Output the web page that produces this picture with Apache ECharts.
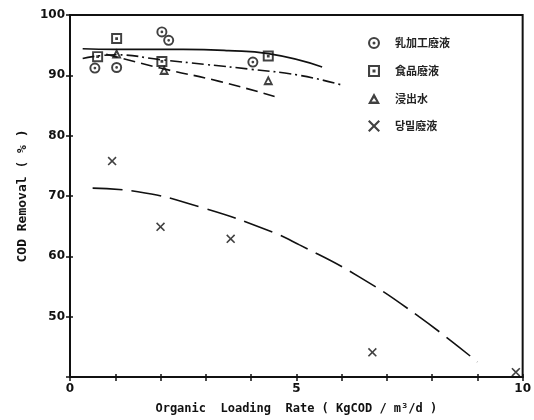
<!DOCTYPE html>
<html>
<head>
<meta charset="utf-8">
<script src="https://cdn.jsdelivr.net/npm/echarts@6/dist/echarts.min.js"></script>
<style>
  html, body { margin: 0; padding: 0; background: #fff; }
  #chart { width: 534px; height: 420px; }
</style>
</head>
<body>
<div id="chart"></div>
<script>
// 散点数据 [负荷, 去除率]
var dairyPts = [[0.55, 91.2], [1.03, 91.3], [2.03, 97.2], [2.18, 95.8], [4.04, 92.2]];
var foodPts = [[0.61, 93.1], [1.03, 96.1], [2.03, 92.3], [4.38, 93.2]];
var leachPts = [[1.03, 93.6], [2.08, 90.9], [4.38, 89.2]];
var molassesPts = [[0.93, 75.8], [2.0, 64.9], [3.55, 62.9], [6.68, 44.1], [9.85, 40.8]];

// 拟合曲线
var solidCurve = [[0.28, 94.4], [1.0, 94.3], [2.5, 94.3], [3.5, 94.1], [4.38, 93.6], [5.57, 91.4]];
var dashDotCurve = [[0.28, 92.8], [1.0, 93.4], [2.0, 92.6], [3.0, 91.8], [4.0, 91.0], [5.07, 90.0], [6.0, 88.4]];
var dashCurve = [[0.8, 93.5], [2.0, 91.2], [3.3, 89.0], [4.52, 86.5]];
var longDashCurve = [[0.5, 71.3], [1.5, 70.7], [2.86, 68.2], [4.34, 64.4], [5.07, 61.9], [6.39, 56.6], [7.71, 50.0], [9.0, 42.5]];

var legendNames = ['乳加工廢液', '食品廢液', '浸出水', '당밀廢液'];

var symCircle = 'path://M0,-10 A10,10 0 1,1 0,10 A10,10 0 1,1 0,-10 Z M0,-6.5 A6.5,6.5 0 1,0 0,6.5 A6.5,6.5 0 1,0 0,-6.5 Z M0,-2.5 A2.5,2.5 0 1,1 0,2.5 A2.5,2.5 0 1,1 0,-2.5 Z';
var symSquare = 'path://M-10,-10 L10,-10 L10,10 L-10,10 Z M-6.5,-6.5 L-6.5,6.5 L6.5,6.5 L6.5,-6.5 Z M-2.5,-2.5 L2.5,-2.5 L2.5,2.5 L-2.5,2.5 Z';
var symTri = 'path://M0,-10 L10,8 L-10,8 Z M0,-2 L-4,4 L4,4 Z';
var symCross = 'path://M-10,-7.5 L-7.5,-10 L0,-2.5 L7.5,-10 L10,-7.5 L2.5,0 L10,7.5 L7.5,10 L0,2.5 L-7.5,10 L-10,7.5 L-2.5,0 Z';

var font = 'DejaVu Sans';
var myChart = echarts.init(document.getElementById('chart'));

function pointSeries(name, data, sym, size) {
  return {
    name: name, type: 'scatter', data: data,
    symbol: sym, symbolSize: size,
    itemStyle: { color: '#111' },
    z: 5
  };
}
function curve(data, type) {
  return {
    type: 'line', data: data, smooth: true, symbol: 'none',
    lineStyle: { color: '#111', width: 1.6, type: type },
    silent: true
  };
}

myChart.setOption({
  animation: false,
  backgroundColor: '#fff',
  grid: { left: 70, right: 10, top: 15, bottom: 43, show: true, borderColor: '#111', borderWidth: 2 },
  legend: {
    orient: 'vertical', left: 363, top: 32, itemGap: 16,
    itemWidth: 12, itemHeight: 12,
    textStyle: { fontFamily: 'Noto Sans CJK KR', fontWeight: 'bold', fontSize: 11, color: '#222', padding: [0, 0, 0, 10] },
    data: [
      { name: legendNames[0], icon: symCircle },
      { name: legendNames[1], icon: symSquare },
      { name: legendNames[2], icon: symTri },
      { name: legendNames[3], icon: symCross }
    ]
  },
  xAxis: [{
    type: 'value', min: 0, max: 10, interval: 1,
    name: 'Organic  Loading  Rate ( KgCOD / m³/d )',
    nameLocation: 'middle', nameGap: 26,
    nameTextStyle: { fontFamily: 'DejaVu Sans Mono', fontWeight: 'bold', fontSize: 12, color: '#111' },
    axisLine: { lineStyle: { color: '#111', width: 2 } },
    axisTick: { length: 4, lineStyle: { color: '#111', width: 1.5 } },
    axisLabel: {
      fontFamily: font, fontWeight: 'bold', fontSize: 12, color: '#111', margin: 6,
      formatter: function (v) { return v % 5 === 0 ? v : ''; }
    },
    splitLine: { show: false }
  }, {
    type: 'value', min: 0, max: 10, interval: 1, position: 'bottom',
    axisLine: { show: false },
    axisTick: { inside: true, length: 3, lineStyle: { color: '#111', width: 1.5 } },
    axisLabel: { show: false }, splitLine: { show: false }
  }],
  yAxis: [{
    type: 'value', min: 40, max: 100, interval: 10,
    name: 'COD Removal ( % )',
    nameLocation: 'middle', nameGap: 40,
    nameTextStyle: { fontFamily: 'DejaVu Sans Mono', fontWeight: 'bold', fontSize: 13, color: '#111' },
    axisLine: { lineStyle: { color: '#111', width: 2 } },
    axisTick: { length: 4, lineStyle: { color: '#111', width: 1.5 } },
    axisLabel: {
      fontFamily: font, fontWeight: 'bold', fontSize: 12, color: '#111', margin: 5,
      formatter: function (v) { return v === 40 ? '' : v; }
    },
    splitLine: { show: false }
  }, {
    type: 'value', min: 40, max: 100, interval: 10, position: 'left',
    axisLine: { show: false },
    axisTick: { inside: true, length: 3, lineStyle: { color: '#111', width: 1.5 } },
    axisLabel: { show: false }, splitLine: { show: false }
  }],
  series: [
    curve(solidCurve, 'solid'),
    curve(dashDotCurve, [12, 4, 2, 4]),
    curve(dashCurve, [12, 6]),
    curve(longDashCurve, [30, 9]),
    pointSeries(legendNames[0], dairyPts, symCircle, 11),
    pointSeries(legendNames[1], foodPts, symSquare, 11),
    pointSeries(legendNames[2], leachPts, symTri, 10),
    pointSeries(legendNames[3], molassesPts, symCross, 9)
  ]
});
</script>
</body>
</html>
